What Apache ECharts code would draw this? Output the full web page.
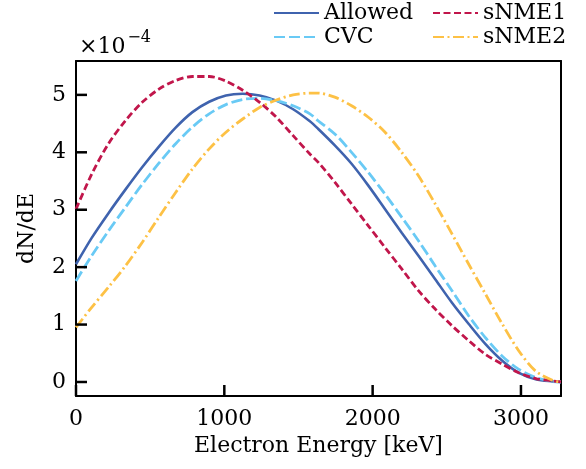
<!DOCTYPE html>
<html>
<head>
<meta charset="utf-8">
<script src="https://cdn.jsdelivr.net/npm/echarts@6/dist/echarts.min.js"></script>
<style>
  html, body { margin: 0; padding: 0; background: #fff; }
  #chart { width: 586px; height: 469px; }
</style>
</head>
<body>
<div id="chart"></div>
<script>
/* beta spectrum shapes, values in units of 1e-4 */
var energyKeV = [0, 106, 219, 333, 446, 559, 672, 785, 898, 1011, 1124, 1238, 1351, 1464, 1577, 1632,
                 1745, 1858, 1971, 2084, 2196, 2309, 2422, 2535, 2648, 2761, 2874, 2986, 3099, 3212, 3270];
var allowedVals = [2.05, 2.51, 2.94, 3.35, 3.74, 4.10, 4.43, 4.70, 4.88, 4.99, 5.02, 4.99, 4.90, 4.75, 4.54, 4.41,
                   4.12, 3.80, 3.42, 3.01, 2.60, 2.20, 1.79, 1.38, 1.01, 0.66, 0.37, 0.16, 0.05, 0.01, 0];
var cvcVals = [1.76, 2.20, 2.63, 3.04, 3.44, 3.81, 4.15, 4.44, 4.67, 4.83, 4.92, 4.94, 4.90, 4.81, 4.67, 4.55,
               4.32, 4.00, 3.65, 3.27, 2.87, 2.46, 2.02, 1.59, 1.15, 0.77, 0.45, 0.22, 0.08, 0.01, 0];
var snme1Vals = [3.01, 3.62, 4.15, 4.55, 4.87, 5.10, 5.25, 5.32, 5.32, 5.24, 5.08, 4.87, 4.61, 4.29, 3.97, 3.83,
                 3.48, 3.10, 2.72, 2.34, 1.97, 1.59, 1.27, 0.98, 0.72, 0.48, 0.31, 0.16, 0.06, 0.02, 0];
var snme2Vals = [0.95, 1.30, 1.65, 2.02, 2.43, 2.87, 3.30, 3.71, 4.06, 4.35, 4.58, 4.78, 4.91, 5.00, 5.03, 5.03,
                 4.96, 4.81, 4.61, 4.35, 4.00, 3.59, 3.10, 2.58, 2.05, 1.53, 1.01, 0.54, 0.19, 0.03, 0];

var xTicks = [0, 1000, 2000, 3000];
var yTicks = [0, 1, 2, 3, 4, 5];

var FONT = "DejaVu Serif";
var FS = 22;
var TICK_LEN = 11;
var X_MIN = 0, X_MAX = 3270;
var Y_MIN = -0.244, Y_MAX = 5.59;

function pairs(vals) {
	var out = [];
	for (var i = 0; i < energyKeV.length; i++) out.push([energyKeV[i], vals[i]]);
	return out;
}

function lineSeries(name, vals, color, dash, width) {
	return {
		name: name,
		type: "line",
		data: pairs(vals),
		smooth: 0.3,
		symbol: "none",
		lineStyle: { color: color, width: width, type: dash },
		itemStyle: { color: color, opacity: 0 },
		z: 3
	};
}

var chart = echarts.init(document.getElementById("chart"), null, { renderer: "canvas" });

var legendBase = {
	orient: "vertical",
	top: -3,
	itemWidth: 45,
	itemHeight: 14,
	itemGap: 2,
	itemStyle: { opacity: 0 },
	textStyle: { fontFamily: FONT, fontSize: FS, color: "#000" },
	inactiveColor: "#000"
};

var frameLine = { show: true, onZero: false, lineStyle: { color: "#000", width: 2 } };

chart.setOption({
	animation: false,
	backgroundColor: "#fff",
	grid: { left: 76, right: 25, top: 61, bottom: 73 },
	legend: [
		Object.assign({}, legendBase, { left: 268, data: ["Allowed", "CVC"] }),
		Object.assign({}, legendBase, { left: 427, data: ["sNME1", "sNME2"] })
	],
	xAxis: [{
		type: "value",
		position: "bottom",
		min: X_MIN, max: X_MAX,
		name: "Electron Energy [keV]",
		nameLocation: "middle",
		nameGap: 28,
		nameTextStyle: { fontFamily: FONT, fontSize: FS, color: "#000" },
		axisLine: frameLine,
		axisTick: { show: false },
		axisLabel: {
			fontFamily: FONT, fontSize: FS, color: "#000", margin: 12, customValues: xTicks,
			formatter: function (v) { return String(v); }
		},
		splitLine: { show: false }
	}, {
		type: "value",
		position: "top",
		min: X_MIN, max: X_MAX,
		axisLine: frameLine,
		axisTick: { show: false },
		axisLabel: { show: false },
		splitLine: { show: false }
	}],
	yAxis: [{
		type: "value",
		position: "left",
		min: Y_MIN, max: Y_MAX,
		name: "dN/dE",
		nameLocation: "middle",
		nameGap: 38,
		nameTextStyle: { fontFamily: FONT, fontSize: FS, color: "#000" },
		axisLine: frameLine,
		axisTick: { show: false },
		axisLabel: {
			fontFamily: FONT, fontSize: FS, color: "#000", margin: 10, customValues: yTicks,
			formatter: function (v) { return String(v); }
		},
		splitLine: { show: false }
	}, {
		type: "value",
		position: "right",
		min: Y_MIN, max: Y_MAX,
		axisLine: frameLine,
		axisTick: { show: false },
		axisLabel: { show: false },
		splitLine: { show: false }
	}],
	series: [
		lineSeries("Allowed", allowedVals, "#3f63ae", "solid", 2.6),
		lineSeries("CVC", cvcVals, "#69caf5", [11, 4], 2.8),
		lineSeries("sNME1", snme1Vals, "#c1164b", [7, 3.5], 2.8),
		lineSeries("sNME2", snme2Vals, "#fdc145", [11, 3.5, 2, 3.5], 2.8)
	]
});

// inward ticks, positioned with the chart's own scales
var extraEls = [];
xTicks.forEach(function (v) {
	var p = chart.convertToPixel({ gridIndex: 0 }, [v, Y_MIN]);
	extraEls.push({ type: "line", z: 100, zlevel: 1, silent: true,
		shape: { x1: p[0], y1: p[1], x2: p[0], y2: p[1] - TICK_LEN },
		style: { stroke: "#000", lineWidth: 2.5 } });
});
yTicks.forEach(function (v) {
	var p = chart.convertToPixel({ gridIndex: 0 }, [X_MIN, v]);
	extraEls.push({ type: "line", z: 100, zlevel: 1, silent: true,
		shape: { x1: p[0], y1: p[1], x2: p[0] + TICK_LEN, y2: p[1] },
		style: { stroke: "#000", lineWidth: 2.5 } });
});

// ×10^-4 offset text
extraEls.push({
	type: "text",
	left: 79, top: 30,
	style: {
		text: "{a|×10}{b|−4}",
		rich: {
			a: { fontFamily: FONT, fontSize: FS, fill: "#000", verticalAlign: "bottom" },
			b: { fontFamily: FONT, fontSize: 16, fill: "#000", verticalAlign: "top", padding: [0, 0, 12, 2] }
		}
	}
});

chart.setOption({ graphic: extraEls });
</script>
</body>
</html>
